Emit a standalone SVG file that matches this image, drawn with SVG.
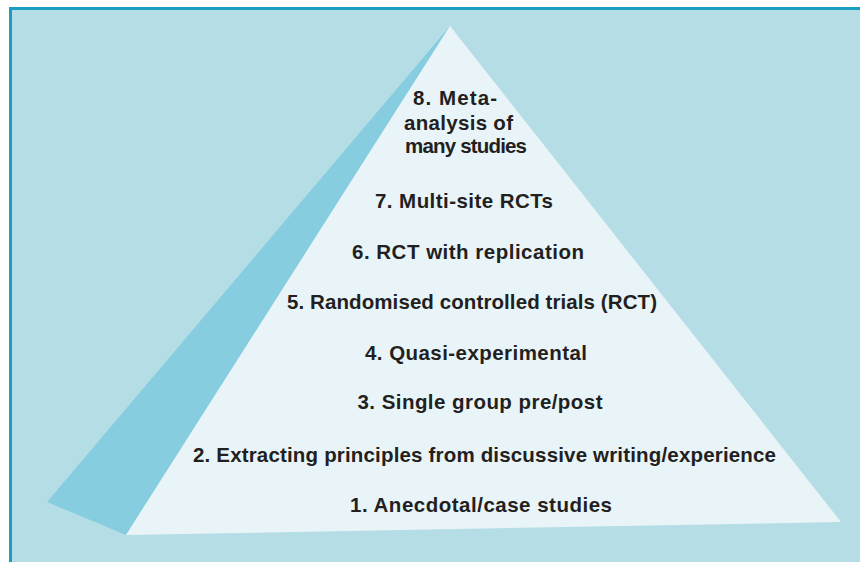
<svg xmlns="http://www.w3.org/2000/svg" width="860" height="562" viewBox="0 0 860 562">
  <style>
    .lbl { font-family: "Liberation Sans", Arial, sans-serif; font-weight: bold; font-size: 20.5px; fill: #231f20; }
  </style>
  <!-- panel -->
  <rect x="0" y="0" width="860" height="562" fill="#ffffff"/>
  <rect x="9" y="7" width="851" height="555" fill="#b5dde6"/>
  <path d="M10.5 562 V8.5 H860" fill="none" stroke="#1a9dc0" stroke-width="3"/>

  <!-- pyramid -->
  <g id="pyramid">
    <polygon id="side-face" points="450,26 47,502 126,535" fill="#86cde0"/>
    <polygon id="front-face" points="450,26 126,535 841,522" fill="#e8f4f8"/>
  </g>

  <!-- levels, bottom of the pyramid is level 1 -->
  <g id="level-8">
    <text class="lbl" x="413" y="105" textLength="84" lengthAdjust="spacing">8. Meta-</text>
    <text class="lbl" x="404" y="130" textLength="109" lengthAdjust="spacing">analysis of</text>
    <text class="lbl" x="405" y="153" textLength="122" lengthAdjust="spacing">many studies</text>
  </g>
  <g id="level-7"><text class="lbl" x="375" y="208" textLength="178" lengthAdjust="spacing">7. Multi-site RCTs</text></g>
  <g id="level-6"><text class="lbl" x="352" y="258.5" textLength="232" lengthAdjust="spacing">6. RCT with replication</text></g>
  <g id="level-5"><text class="lbl" x="287" y="308.5" textLength="370" lengthAdjust="spacing">5. Randomised controlled trials (RCT)</text></g>
  <g id="level-4"><text class="lbl" x="365" y="360" textLength="222" lengthAdjust="spacing">4. Quasi-experimental</text></g>
  <g id="level-3"><text class="lbl" x="357.5" y="409" textLength="245" lengthAdjust="spacing">3. Single group pre/post</text></g>
  <g id="level-2"><text class="lbl" x="193" y="461.5" textLength="583" lengthAdjust="spacing">2. Extracting principles from discussive writing/experience</text></g>
  <g id="level-1"><text class="lbl" x="350" y="511.5" textLength="262" lengthAdjust="spacing">1. Anecdotal/case studies</text></g>
</svg>
